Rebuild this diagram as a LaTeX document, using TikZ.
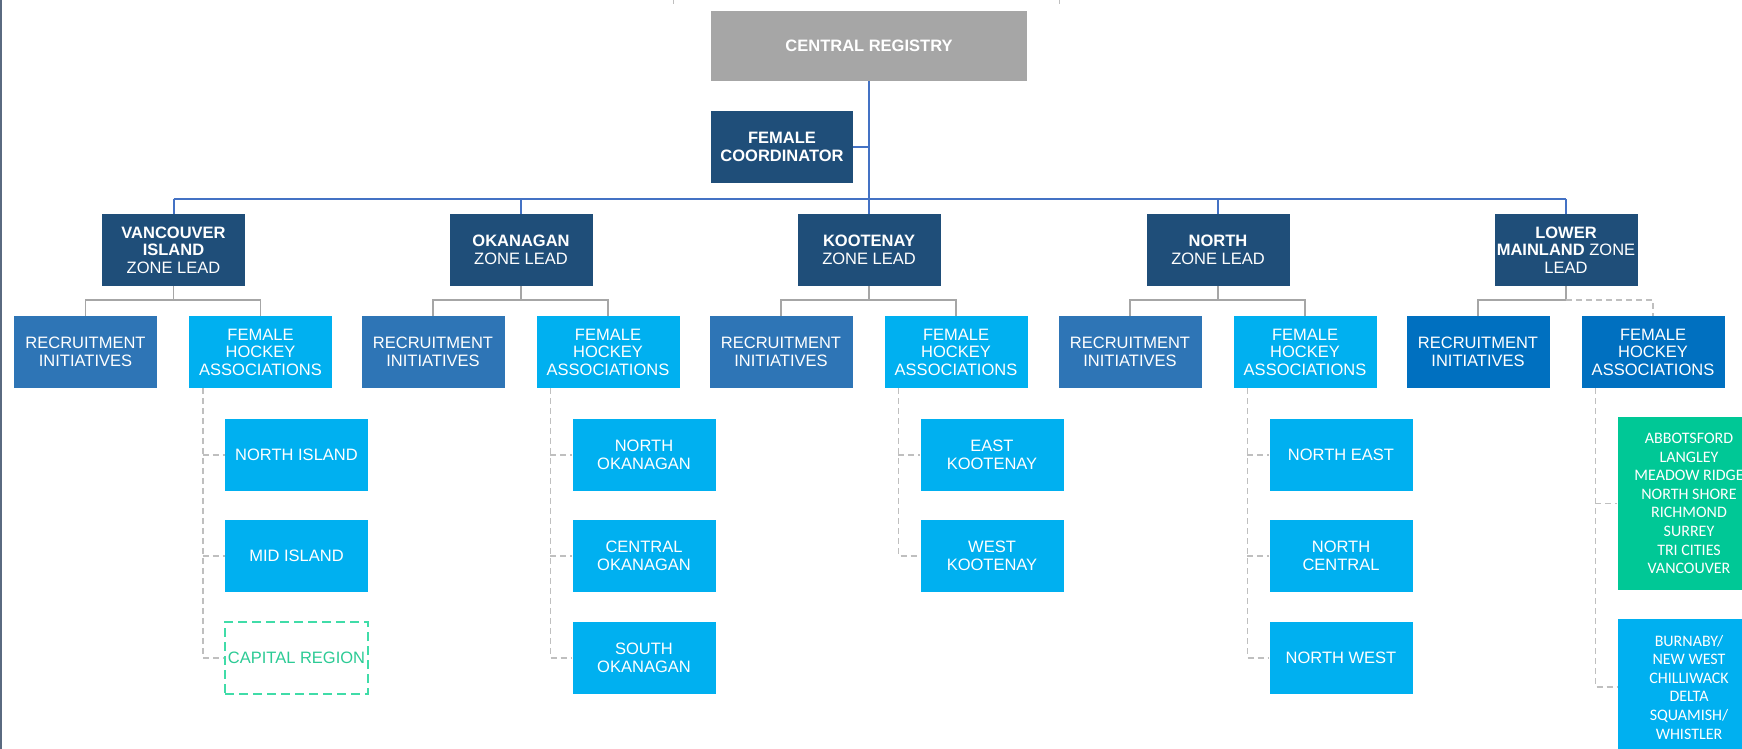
\documentclass[tikz,border=0pt]{standalone}
\usepackage{fontspec}
\setmainfont{Liberation Sans}
\newfontfamily\carl{Carlito}
\usetikzlibrary{calc}
\definecolor{navy}{HTML}{1F4E79}
\definecolor{regray}{HTML}{A6A6A6}
\definecolor{recblue}{HTML}{2E75B6}
\definecolor{cyanblue}{HTML}{00B0F0}
\definecolor{lmblue}{HTML}{0070C0}
\definecolor{mint}{HTML}{00C896}
\definecolor{mintline}{HTML}{40DCA8}
\definecolor{minttext}{HTML}{2CCB95}
\definecolor{busblue}{HTML}{4472C4}
\definecolor{conngray}{HTML}{A6A6A6}
\definecolor{dashgray}{HTML}{BFBFBF}
\definecolor{frameline}{HTML}{5A6A80}
\begin{document}
\begin{tikzpicture}[x=1pt,y=-1pt,
  box/.style={rectangle, minimum width=143pt, minimum height=72pt, inner sep=2pt,
    align=center, text=white, font=\fontsize{16.5}{17.5}\selectfont},
  regbox/.style={box, fill=regray, minimum width=316pt, minimum height=70pt},
  zonebox/.style={box, fill=navy},
  recbox/.style={box, fill=recblue},
  fhabox/.style={box, fill=cyanblue},
  lmbox/.style={box, fill=lmblue},
  childbox/.style={box, fill=cyanblue},
  capbox/.style={box, fill=white, draw=mintline, line width=2.5pt,
    dash pattern=on 9pt off 5pt, text=minttext},
  listbox/.style={box, font=\carl\fontsize{16}{18.6}\selectfont},
  bus/.style={draw=busblue, line width=2pt},
  gline/.style={draw=conngray, line width=1.8pt},
  dline/.style={draw=dashgray, line width=1.5pt, dash pattern=on 6pt off 4pt}
]
\useasboundingbox (0,0) rectangle (1742,749);
\clip (0,0) rectangle (1742,749);
\fill[white] (0,0) rectangle (1742,749);

% frame remnants
\draw[frameline, line width=1.5pt] (0.75,0) -- (0.75,749);
\draw[dashgray, line width=1pt] (673,0) -- (673,4);
\draw[dashgray, line width=1pt] (1059,0) -- (1059,4);

% top
\node[regbox] (reg) at (869,46) {\textbf{CENTRAL REGISTRY}};
\node[zonebox, minimum width=142pt, minimum height=71pt] (fc) at (782,147) {\textbf{FEMALE}\\\textbf{COORDINATOR}};

% zone leads
\node[zonebox] (z1) at (173.5,250) {\textbf{VANCOUVER}\\\textbf{ISLAND}\\ZONE LEAD};
\node[zonebox] (z2) at (521,250) {\textbf{OKANAGAN}\\ZONE LEAD};
\node[zonebox] (z3) at (869,250) {\textbf{KOOTENAY}\\ZONE LEAD};
\node[zonebox] (z4) at (1218,250) {\textbf{NORTH}\\ZONE LEAD};
\node[zonebox] (z5) at (1566,250) {\textbf{LOWER}\\\textbf{MAINLAND} ZONE\\LEAD};

% recruitment
\node[recbox] (r1) at (85.5,352) {RECRUITMENT\\INITIATIVES};
\node[recbox] (r2) at (433,352) {RECRUITMENT\\INITIATIVES};
\node[recbox] (r3) at (781,352) {RECRUITMENT\\INITIATIVES};
\node[recbox] (r4) at (1130,352) {RECRUITMENT\\INITIATIVES};
\node[lmbox] (r5) at (1478,352) {RECRUITMENT\\INITIATIVES};

% female hockey associations
\node[fhabox] (f1) at (260.5,352) {FEMALE\\HOCKEY\\ASSOCIATIONS};
\node[fhabox] (f2) at (608,352) {FEMALE\\HOCKEY\\ASSOCIATIONS};
\node[fhabox] (f3) at (956,352) {FEMALE\\HOCKEY\\ASSOCIATIONS};
\node[fhabox] (f4) at (1305,352) {FEMALE\\HOCKEY\\ASSOCIATIONS};
\node[lmbox] (f5) at (1653,352) {FEMALE\\HOCKEY\\ASSOCIATIONS};

% children
\node[childbox] (c11) at (296.5,455) {NORTH ISLAND};
\node[childbox] (c12) at (296.5,556) {MID ISLAND};
\node[capbox] (c13) at (296.5,658) {CAPITAL REGION};

\node[childbox] (c21) at (644,455) {NORTH\\OKANAGAN};
\node[childbox] (c22) at (644,556) {CENTRAL\\OKANAGAN};
\node[childbox] (c23) at (644,658) {SOUTH\\OKANAGAN};

\node[childbox] (c31) at (992,455) {EAST\\KOOTENAY};
\node[childbox] (c32) at (992,556) {WEST\\KOOTENAY};

\node[childbox] (c41) at (1341,455) {NORTH EAST};
\node[childbox] (c42) at (1341,556) {NORTH\\CENTRAL};
\node[childbox] (c43) at (1341,658) {NORTH WEST};

\node[listbox, fill=mint, minimum height=173pt] (c51) at (1689,503.5)
  {ABBOTSFORD\\LANGLEY\\MEADOW RIDGE\\NORTH SHORE\\RICHMOND\\SURREY\\TRI CITIES\\VANCOUVER};
\node[listbox, fill=cyanblue, minimum height=136pt] (c52) at (1689,687)
  {BURNABY/\\NEW WEST\\CHILLIWACK\\DELTA\\SQUAMISH/\\WHISTLER};

% blue bus
\coordinate (busL) at (173.5,199);
\coordinate (busR) at (1566,199);
\draw[bus] (busL) -- (busR);
\draw[bus] (reg.south) -- (reg.south |- busL);
\draw[bus] (fc.east) -- (fc.east -| reg.south);
\foreach \z in {z1,z2,z3,z4,z5}{
  \draw[bus] (\z.north) -- (\z.north |- busL);
}

% gray connectors
\foreach \i in {1,2,3,4}{
  \draw[gline] (z\i.south) -- ++(0,14) -| (r\i.north);
  \draw[gline] (z\i.south) -- ++(0,14) -| (f\i.north);
}
\draw[gline] (z5.south) -- ++(0,14) -| (r5.north);
\draw[dline] (z5.south) ++(0,14) -| (f5.north);

% dashed child connectors
\foreach \i/\last in {1/c13,2/c23,3/c32,4/c43,5/c52}{
  \coordinate (v\i) at ($(f\i.south west)+(14,0)$);
  \draw[dline] (v\i) |- (\last.west);
}
\foreach \c/\v in {c11/v1,c12/v1,c21/v2,c22/v2,c31/v3,c41/v4,c42/v4,c51/v5}{
  \draw[dline] (\v |- \c.west) -- (\c.west);
}
\end{tikzpicture}
\end{document}
